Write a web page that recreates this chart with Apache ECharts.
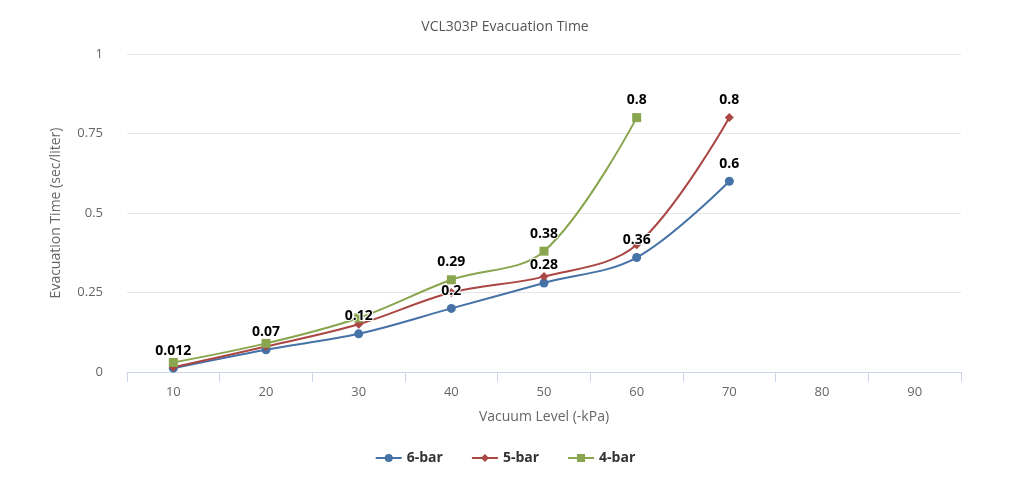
<!DOCTYPE html>
<html><head><meta charset="utf-8">
<script src="https://cdn.jsdelivr.net/npm/echarts@6/dist/echarts.min.js"></script>
<style>html,body{margin:0;padding:0;background:#fff}#c{width:1010px;height:500px}</style>
</head><body><div id="c"></div>
<script>
const categories = ['10','20','30','40','50','60','70','80','90'];
const bar6 = [0.012, 0.07, 0.12, 0.2, 0.28, 0.36, 0.6, null, null];
const bar5 = [0.015, 0.08, 0.15, 0.25, 0.3, 0.4, 0.8, null, null];
const bar4 = [0.03, 0.09, 0.17, 0.29, 0.38, 0.8, null, null, null];
const yTicks = [0, 0.25, 0.5, 0.75, 1];

const FONT = '"Open Sans", "DejaVu Sans", sans-serif';
// labels that the reference shows (others hidden by overlap)
const shown6 = [0,1,2,3,4,5,6];
const shown5 = [6];
const shown4 = [3,4,5];

function lbl(shown){
  return {
    show: true, position: 'top', distance: 6,
    color: '#000', fontWeight: 'bold', fontSize: 14, fontFamily: FONT,
    textBorderColor: '#fff', textBorderWidth: 2,
    formatter: p => shown.indexOf(p.dataIndex) >= 0 ? String(p.value) : ''
  };
}
function ser(name, data, color, symbol, size, shown){
  return {
    name, type: 'line', data, smooth: 0.35, connectNulls: false,
    symbol, symbolSize: size, showAllSymbol: true,
    itemStyle: {color}, lineStyle: {color, width: 2},
    label: lbl(shown), emphasis: {disabled: true}
  };
}
const chart = echarts.init(document.getElementById('c'), null, {renderer: 'canvas'});
chart.setOption({
  animation: false,
  backgroundColor: '#fff',
  title: {text: 'VCL303P Evacuation Time', left: 'center', top: 15,
    textStyle: {fontFamily: FONT, fontSize: 14, fontWeight: 'normal', color: '#555'}},
  grid: {left: 127, right: 49, top: 54, bottom: 128},
  legend: {bottom: 30, left: 'center', itemGap: 28, itemWidth: 26, itemHeight: 10,
    textStyle: {fontFamily: FONT, fontSize: 14, fontWeight: 'bold', color: '#333'},
    data: ['6-bar', '5-bar', '4-bar']},
  xAxis: {
    type: 'category', data: categories, boundaryGap: true,
    name: 'Vacuum Level (-kPa)', nameLocation: 'middle', nameGap: 38,
    nameTextStyle: {fontFamily: FONT, fontSize: 14, color: '#666'},
    axisLine: {lineStyle: {color: '#ccd6eb'}},
    axisTick: {show: true, length: 10, lineStyle: {color: '#ccd6eb'}},
    axisLabel: {fontFamily: FONT, fontSize: 13, color: '#666', margin: 14}
  },
  yAxis: {
    type: 'value', min: yTicks[0], max: yTicks[yTicks.length-1], interval: 0.25,
    name: 'Evacuation Time (sec/liter)', nameLocation: 'middle', nameGap: 64,
    nameTextStyle: {fontFamily: FONT, fontSize: 14, color: '#666'},
    axisLine: {show: false}, axisTick: {show: false},
    splitLine: {lineStyle: {color: '#e6e6e6'}},
    axisLabel: {fontFamily: FONT, fontSize: 13, color: '#666', margin: 24,
      formatter: v => String(v)}
  },
  series: [
    ser('6-bar', bar6, '#4572a7', 'circle', 9, shown6),
    ser('5-bar', bar5, '#aa4643', 'diamond', 9, shown5),
    ser('4-bar', bar4, '#89a54e', 'rect', 9, shown4)
  ]
});
</script></body></html>
